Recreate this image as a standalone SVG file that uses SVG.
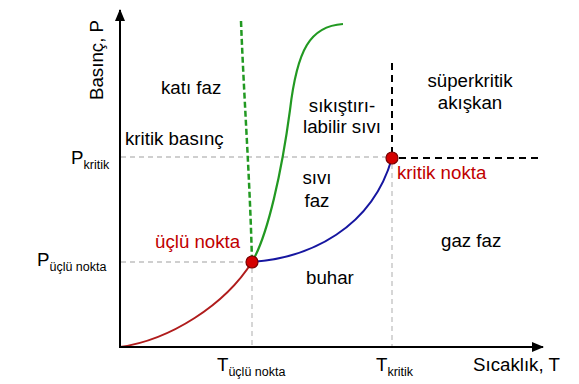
<svg xmlns="http://www.w3.org/2000/svg" width="579" height="384" viewBox="0 0 579 384">
<style>
text{font-family:"Liberation Sans",Arial,sans-serif;fill:#000}
.lbl{font-size:18.7px}
.sub{font-size:12.5px}
.red{fill:#c00000}
.grid{stroke:#c0c0c0;stroke-width:1.3;stroke-dasharray:5 4;fill:none}
.blk{stroke:#000;stroke-width:2;stroke-dasharray:7 5;fill:none}
.pt{fill:#d40000;stroke:#7a0000;stroke-width:1.2}
</style>
<defs>
<marker id="arr" viewBox="0 0 12 10" refX="11" refY="5" markerWidth="12" markerHeight="10" markerUnits="userSpaceOnUse" orient="auto">
<path d="M0,0 L12,5 L0,10 Z" fill="#000"/>
</marker>
</defs>
<g id="connectors">
<line class="grid" x1="121" y1="157" x2="386" y2="157"/>
<line class="grid" x1="121" y1="262" x2="246" y2="262"/>
<line class="grid" x1="252" y1="268" x2="252" y2="346"/>
<line class="grid" x1="392" y1="164" x2="392" y2="346"/>
<line class="blk" x1="392" y1="63" x2="392" y2="152"/>
<line class="blk" x1="399" y1="158" x2="543" y2="158"/>
<path d="M120,347 C170,340 225,305 252,262" stroke="#b01c1c" stroke-width="2" fill="none"/>
<path d="M252,262 C310,258 372,228 392,158" stroke="#1616a0" stroke-width="2" fill="none"/>
<path d="M252,262 C268,235 282,170 290,110 C297,50 310,26 343,24" stroke="#229922" stroke-width="2.2" fill="none"/>
<path d="M241,21 C244,100 250,180 252,262" stroke="#229922" stroke-width="2.5" stroke-dasharray="6 3" fill="none"/>
<line x1="120" y1="348" x2="120" y2="10" stroke="#000" stroke-width="2" marker-end="url(#arr)"/>
<line x1="119" y1="347" x2="543" y2="347" stroke="#000" stroke-width="2" marker-end="url(#arr)"/>
</g>
<g id="triple-point"><circle class="pt" cx="252" cy="262" r="6"/></g>
<g id="critical-point"><circle class="pt" cx="392" cy="158" r="6"/></g>
<g id="axis-p"><text class="lbl" transform="translate(103,60) rotate(-90)" text-anchor="middle">Basınç, P</text></g>
<g id="axis-t"><text class="lbl" x="473" y="371">Sıcaklık, T</text></g>
<g id="p-kritik"><text class="lbl" x="71" y="164">P<tspan class="sub" dy="5">kritik</tspan></text></g>
<g id="p-uclu"><text class="lbl" x="37" y="266">P<tspan class="sub" dy="5">üçlü nokta</tspan></text></g>
<g id="t-uclu"><text class="lbl" x="217" y="371">T<tspan class="sub" dy="5">üçlü nokta</tspan></text></g>
<g id="t-kritik"><text class="lbl" x="376" y="371">T<tspan class="sub" dy="5">kritik</tspan></text></g>
<g id="kati-faz"><text class="lbl" x="161" y="94">katı faz</text></g>
<g id="kritik-basinc"><text class="lbl" x="125" y="145">kritik basınç</text></g>
<g id="sikistirilabilir"><text class="lbl" x="342" y="112" text-anchor="middle">sıkıştırı-</text><text class="lbl" x="342" y="133" text-anchor="middle">labilir sıvı</text></g>
<g id="superkritik"><text class="lbl" x="470" y="87" text-anchor="middle">süperkritik</text><text class="lbl" x="470" y="109" text-anchor="middle">akışkan</text></g>
<g id="sivi-faz"><text class="lbl" x="317" y="184" text-anchor="middle">sıvı</text><text class="lbl" x="317" y="207" text-anchor="middle">faz</text></g>
<g id="kritik-nokta"><text class="lbl red" x="397" y="179">kritik nokta</text></g>
<g id="uclu-nokta"><text class="lbl red" x="155" y="248">üçlü nokta</text></g>
<g id="buhar"><text class="lbl" x="306" y="284">buhar</text></g>
<g id="gaz-faz"><text class="lbl" x="441" y="247">gaz faz</text></g>
</svg>
